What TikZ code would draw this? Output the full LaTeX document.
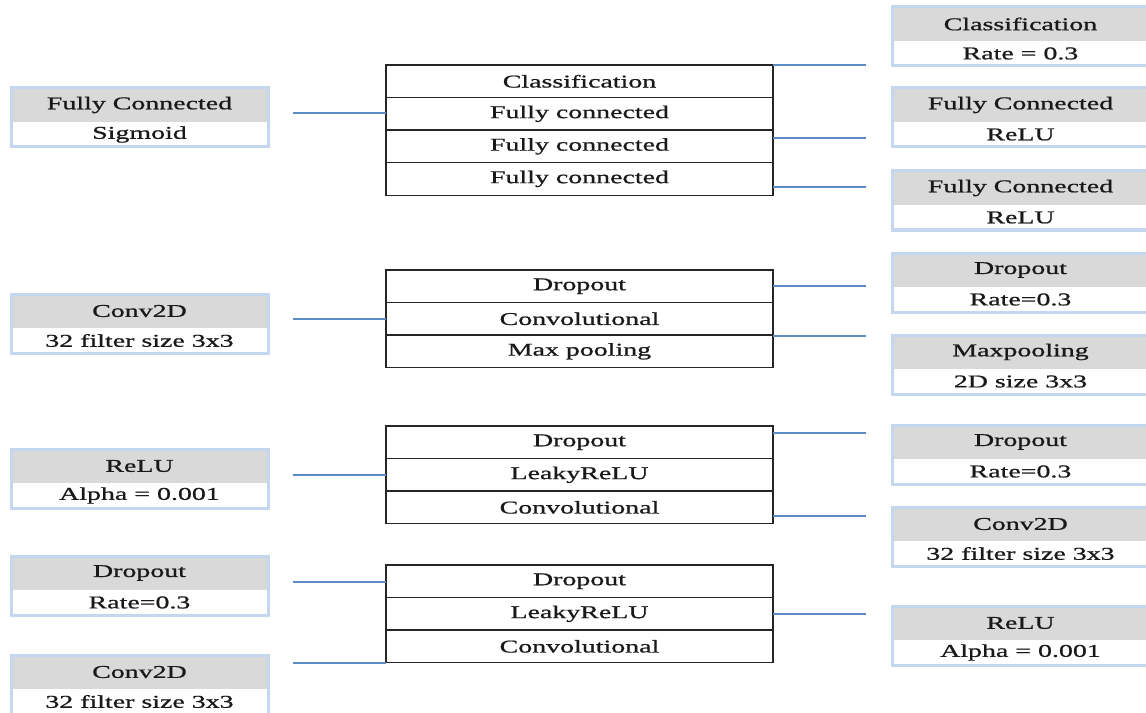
\documentclass[tikz,border=0pt]{standalone}
\usepackage{fontspec}
\setmainfont[FakeStretch=1.55,FakeBold=0.9]{Liberation Serif}
\usetikzlibrary{calc}
\definecolor{conncol}{RGB}{91,140,196}
\definecolor{bordblue}{RGB}{197,215,238}
\definecolor{hdrgray}{RGB}{217,217,217}
\newcommand{\mysidebox}[5]{%
  \node[sidehdr] (#1h) at (#2,#3) {#4};
  \node[sideval] (#1v) at (#1h.south west) {#5};
  \draw[bord] (#1h.north west) rectangle (#1v.south east);}
\begin{document}
\begin{tikzpicture}[x=0.75pt,y=-0.75pt,
  every node/.style={font=\fontsize{13.5}{15}\selectfont, inner sep=0pt, outer sep=0pt, text=black!90},
  sidehdr/.style={anchor=north west, fill=hdrgray, minimum width=192.75pt, minimum height=25.5pt},
  sideval/.style={anchor=north west, fill=white, minimum width=192.75pt, minimum height=18.75pt},
  bord/.style={draw=bordblue, line width=2.25pt},
  rowbox/.style={anchor=north west, draw=black!85, line width=0.9pt, minimum width=290.25pt, minimum height=24.4pt},
  conn/.style={draw=conncol, line width=1pt}]
\useasboundingbox (0,0) rectangle (1146,713);
\begin{scope}
\clip (0,0) rectangle (1146,713);
% left side boxes
\mysidebox{L1}{11}{88}{Fully Connected}{Sigmoid}
\mysidebox{L2}{11}{294}{Conv2D}{32 filter size 3x3}
\mysidebox{L3}{11}{449}{ReLU}{Alpha = 0.001}
\mysidebox{L4}{11}{556}{Dropout}{Rate=0.3}
\mysidebox{L5}{11}{655}{Conv2D}{32 filter size 3x3}
% right side boxes
\mysidebox{R1}{892}{7}{Classification}{Rate = 0.3}
\mysidebox{R2}{892}{88}{Fully Connected}{ReLU}
\mysidebox{R3}{892}{171}{Fully Connected}{ReLU}
\mysidebox{R4}{892}{253}{Dropout}{Rate=0.3}
\mysidebox{R5}{892}{335}{Maxpooling}{2D size 3x3}
\mysidebox{R6}{892}{425}{Dropout}{Rate=0.3}
\mysidebox{R7}{892}{507}{Conv2D}{32 filter size 3x3}
\mysidebox{R8}{892}{606}{ReLU}{Alpha = 0.001}
\end{scope}
% central stacks
\node[rowbox] (C1a) at (386,65) {Classification};
\node[rowbox] (C1b) at (C1a.south west) {Fully connected};
\node[rowbox] (C1c) at (C1b.south west) {Fully connected};
\node[rowbox] (C1d) at (C1c.south west) {Fully connected};
\node[rowbox] (C2a) at (386,270) {Dropout};
\node[rowbox] (C2b) at (C2a.south west) {Convolutional};
\node[rowbox] (C2c) at (C2b.south west) {Max pooling};
\node[rowbox] (C3a) at (386,426) {Dropout};
\node[rowbox] (C3b) at (C3a.south west) {LeakyReLU};
\node[rowbox] (C3c) at (C3b.south west) {Convolutional};
\node[rowbox] (C4a) at (386,565) {Dropout};
\node[rowbox] (C4b) at (C4a.south west) {LeakyReLU};
\node[rowbox] (C4c) at (C4b.south west) {Convolutional};
% connector free ends
\coordinate (s1) at (293,113);
\coordinate (s2) at (293,319);
\coordinate (s3) at (293,475);
\coordinate (s4) at (293,582);
\coordinate (s5) at (293,663);
\coordinate (e1) at (866,65);
\coordinate (e2) at (866,138);
\coordinate (e3) at (866,187);
\coordinate (e4) at (866,286);
\coordinate (e5) at (866,336);
\coordinate (e6) at (866,433);
\coordinate (e7) at (866,516);
\coordinate (e8) at (866,614);
% left connectors
\draw[conn] (s1) -- (s1 -| C1b.west);
\draw[conn] (s2) -- (s2 -| C2b.west);
\draw[conn] (s3) -- (s3 -| C3b.west);
\draw[conn] (s4) -- (s4 -| C4a.west);
\draw[conn] (s5) -- (s5 -| C4c.west);
% right connectors
\draw[conn] (e1 -| C1a.east) -- (e1);
\draw[conn] (e2 -| C1c.east) -- (e2);
\draw[conn] (e3 -| C1d.east) -- (e3);
\draw[conn] (e4 -| C2a.east) -- (e4);
\draw[conn] (e5 -| C2c.east) -- (e5);
\draw[conn] (e6 -| C3a.east) -- (e6);
\draw[conn] (e7 -| C3c.east) -- (e7);
\draw[conn] (e8 -| C4b.east) -- (e8);
\end{tikzpicture}
\end{document}
